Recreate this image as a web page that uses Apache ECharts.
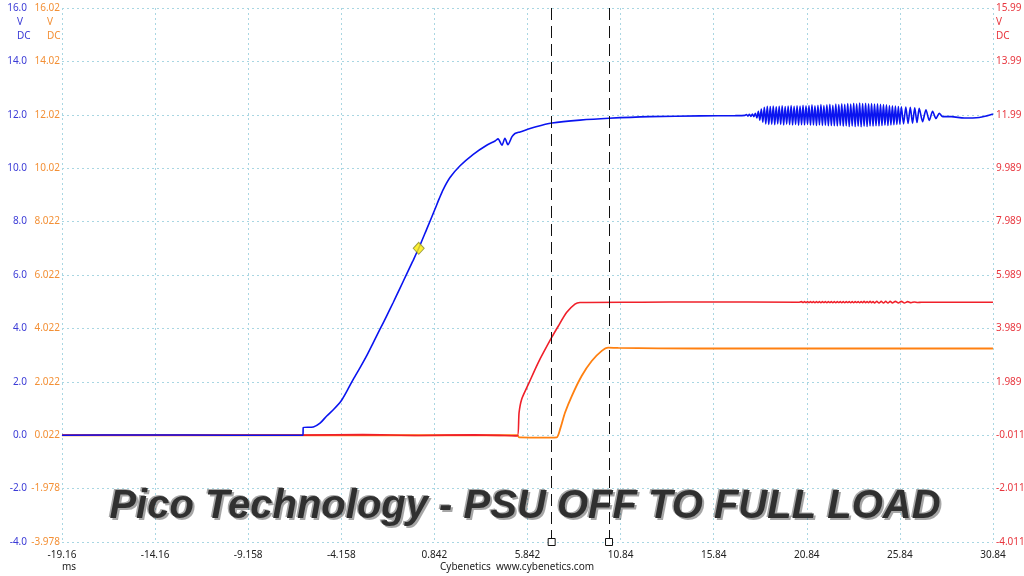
<!DOCTYPE html>
<html>
<head>
<meta charset="utf-8">
<script src="https://cdn.jsdelivr.net/npm/echarts@6/dist/echarts.min.js"></script>
<style>
html,body{margin:0;padding:0;background:#fff;overflow:hidden;}
#chart{width:1024px;height:576px;}
</style>
</head>
<body>
<div id="chart"></div>
<script>
// ---- tick labels ----
const xTickLabels = ['-19.16','-14.16','-9.158','-4.158','0.842','5.842','10.84','15.84','20.84','25.84','30.84'];
const blueTickLabels = ['-4.0','-2.0','0.0','2.0','4.0','6.0','8.0','10.0','12.0','14.0','16.0'];
const orangeTickLabels = ['-3.978','-1.978','0.022','2.022','4.022','6.022','8.022','10.02','12.02','14.02','16.02'];
const redTickLabels = ['-4.011','-2.011','-0.011','1.989','3.989','5.989','7.989','9.989','11.99','13.99','15.99'];

// ---- axis offsets (time at left edge, channel offsets vs blue scale) ----
const timeStart = -19.158;   // ms at left edge
const orangeOffset = 0.022;  // orange axis label = blue value + 0.022
const redOffset = -0.011;    // red axis label = blue value - 0.011

// ---- channel A (blue, V) [ms, V] ----
const blueTrace = [
[-19.16,0.00],[-15.0,0.01],[-10.0,0.00],[-6.22,0.00],[-6.20,0.29],[-5.66,0.31],[-5.30,0.45],[-4.94,0.72],[-4.55,0.98],[-4.17,1.28],
[-3.85,1.66],[-3.51,2.10],[-3.15,2.53],[-2.80,2.97],[-2.44,3.47],[-2.08,3.97],[-1.72,4.47],[-1.37,4.97],[-1.01,5.50],[-0.65,6.03],
[-0.32,6.52],[0.00,7.00],[0.43,7.72],[0.87,8.46],[1.10,8.86],[1.32,9.21],[1.68,9.65],[2.22,10.09],[2.93,10.52],[3.65,10.86],
[4.10,11.02],[4.26,11.10],[4.47,10.86],[4.63,11.12],[4.79,10.88],[5.01,11.18],[5.17,11.30],[5.44,11.36],[6.30,11.55],[7.16,11.69],
[8.66,11.80],[10.22,11.87],[12.42,11.93],[15.11,11.96],[17.00,11.97]
];
const blueRipple = [
[17.52,11.98],[17.60,12.01],[17.68,11.95],[17.76,12.02],[17.84,11.94],[17.92,12.03],[18.00,11.93],[18.08,12.06],[18.16,11.88],[18.24,12.13],
[18.32,11.80],[18.40,12.22],[18.48,11.72],[18.56,12.28],[18.64,11.66],[18.72,12.32],[18.80,11.64],[18.88,12.31],[18.96,11.65],[19.04,12.33],
[19.12,11.63],[19.20,12.30],[19.28,11.66],[19.36,12.32],[19.44,11.64],[19.52,12.34],[19.60,11.62],[19.68,12.31],[19.76,11.65],[19.84,12.33],
[19.92,11.63],[20.00,12.35],[20.08,11.62],[20.16,12.32],[20.24,11.64],[20.32,12.34],[20.40,11.61],[20.48,12.33],[20.56,11.63],[20.64,12.36],
[20.72,11.62],[20.80,12.34],[20.88,11.64],[20.96,12.35],[21.04,11.61],[21.12,12.37],[21.20,11.62],[21.28,12.34],[21.36,11.60],[21.44,12.36],
[21.52,11.62],[21.60,12.38],[21.68,11.60],[21.76,12.35],[21.84,11.61],[21.92,12.37],[22.00,11.59],[22.08,12.39],[22.16,11.60],[22.24,12.36],
[22.32,11.59],[22.40,12.40],[22.48,11.58],[22.56,12.38],[22.64,11.60],[22.72,12.41],[22.80,11.57],[22.88,12.39],[22.96,11.59],[23.04,12.42],
[23.12,11.56],[23.20,12.40],[23.28,11.58],[23.36,12.43],[23.44,11.56],[23.52,12.41],[23.60,11.57],[23.68,12.44],[23.76,11.55],[23.84,12.42],
[23.92,11.57],[24.00,12.43],[24.08,11.56],[24.16,12.41],[24.24,11.58],[24.32,12.42],[24.40,11.57],[24.48,12.40],[24.56,11.59],[24.64,12.41],
[24.72,11.58],[24.80,12.39],[24.88,11.60],[24.96,12.38],[25.04,11.61],[25.12,12.37],[25.20,11.60],[25.28,12.35],[25.36,11.62],[25.44,12.34],
[25.52,11.63],[25.60,12.33],[25.68,11.64],[25.76,12.31],[25.84,11.65],[25.92,12.30],[26.04,11.66],[26.16,12.29],[26.28,11.68],[26.40,12.28],
[26.52,11.69],[26.64,12.26],[26.76,11.71],[26.88,12.24],[27.06,11.74],[27.24,12.19],[27.42,11.79],[27.60,12.13],[27.78,11.86],[27.96,12.06],
[28.14,11.93]
];
const blueTail = [[28.60,11.93],[29.30,11.88],[30.10,11.90],[30.50,11.96],[30.84,12.03]];

// ---- channel B (red, V) [ms, V] ----
const redTrace = [
[-19.16,-0.01],[-6.20,-0.01],[-3.00,0.01],[0.00,-0.02],[3.00,0.00],[5.00,-0.03],[5.30,-0.04],[5.39,0.84],[5.53,1.34],[5.89,1.90],
[6.42,2.71],[7.14,3.65],[7.50,4.08],[7.95,4.59],[8.39,4.90],[8.66,4.96],[12.00,4.97],[15.00,4.98],[20.40,4.97]
];
const redRipple = [
[20.56,4.99],[20.64,4.96],[20.72,4.99],[20.80,4.96],[20.88,4.99],[20.96,4.96],[21.04,4.99],[21.12,4.96],[21.20,4.99],[21.28,4.95],
[21.36,4.99],[21.44,4.96],[21.52,4.99],[21.60,4.95],[21.68,4.99],[21.76,4.96],[21.84,4.99],[21.92,4.95],[22.00,4.99],[22.08,4.96],
[22.16,4.99],[22.24,4.95],[22.32,4.99],[22.40,4.95],[22.48,4.99],[22.56,4.96],[22.64,4.99],[22.72,4.95],[22.80,4.99],[22.88,4.95],
[22.96,4.99],[23.04,4.96],[23.12,4.99],[23.20,4.95],[23.28,4.99],[23.36,4.95],[23.44,4.99],[23.52,4.96],[23.60,4.99],[23.68,4.95],
[23.76,4.99],[23.84,4.95],[23.92,5.00],[24.00,4.95],[24.08,4.99],[24.16,4.95],[24.24,5.00],[24.32,4.95],[24.40,4.99],[24.48,4.94],
[24.60,5.00],[24.72,4.94],[24.84,5.00],[24.96,4.94],[25.08,5.00],[25.20,4.94],[25.32,5.00],[25.44,4.94],[25.60,5.00],[25.76,4.94],
[25.92,5.00],[26.08,4.94],[26.26,4.99],[26.44,4.95],[26.62,4.98],[26.80,4.96]
];
const redTail = [[27.00,4.97],[30.84,4.97]];

// ---- channel C (orange, V) [ms, V] ----
const orangeTrace = [
[-19.16,0.02],[5.30,0.02],[5.40,-0.06],[7.00,-0.07],[7.41,-0.06],[7.59,0.24],[7.86,0.87],[8.22,1.49],[8.75,2.24],[9.29,2.80],
[9.83,3.18],[10.18,3.30],[10.72,3.29],[15.00,3.27],[20.00,3.27],[25.00,3.27],[30.84,3.27]
];

// ---- cursors and trigger ----
const cursorTimes = [7.14, 10.22];
const triggerPoint = [0.0, 7.0];

// ---- build (shift time so the screen starts at 0) ----
const sx = t => +(t - timeStart).toFixed(4);
const blueData = blueTrace.concat(blueRipple, blueTail).map(p => [sx(p[0]), p[1]]);
const redData = redTrace.concat(redRipple, redTail).map(p => [sx(p[0]), +(p[1] - redOffset).toFixed(4)]);
const orangeData = orangeTrace.map(p => [sx(p[0]), +(p[1] - orangeOffset).toFixed(4)]);

const gridColor = '#a9d6e2';
const labelFont = '"Noto Sans", "Open Sans", sans-serif';
const titleText = 'Pico Technology - PSU OFF TO FULL LOAD';
const titleFont = 'italic bold 40px "Liberation Sans", Arial, sans-serif';

const chart = echarts.init(document.getElementById('chart'), null, {renderer: 'canvas'});
chart.setOption({
  animation: false,
  backgroundColor: '#ffffff',
  grid: {left: 62, right: 31, top: 8, bottom: 34, containLabel: false, outerBoundsMode: 'none'},
  xAxis: {
    type: 'value', min: 0, max: 50, interval: 5,
    axisLine: {show: false}, axisTick: {show: false},
    splitLine: {show: true, lineStyle: {color: gridColor, type: [2, 3], width: 1}},
    axisLabel: {color: '#222', fontSize: 10, fontFamily: labelFont, margin: 8,
      formatter: v => xTickLabels[Math.round(v / 5)] || ''}
  },
  yAxis: [
    {type: 'value', min: -4, max: 16, interval: 2, position: 'left',
      axisLine: {show: false}, axisTick: {show: false},
      splitLine: {show: true, lineStyle: {color: gridColor, type: [2, 3], width: 1}},
      axisLabel: {color: '#3b3bd6', fontSize: 10, fontFamily: labelFont, margin: 35,
        formatter: v => blueTickLabels[Math.round((v + 4) / 2)] || ''}},
    {type: 'value', min: -4, max: 16, interval: 2, position: 'left',
      axisLine: {show: false}, axisTick: {show: false}, splitLine: {show: false},
      axisLabel: {color: '#f39036', fontSize: 10, fontFamily: labelFont, margin: 2,
        formatter: v => orangeTickLabels[Math.round((v + 4) / 2)] || ''}},
    {type: 'value', min: -4, max: 16, interval: 2, position: 'right',
      axisLine: {show: false}, axisTick: {show: false}, splitLine: {show: false},
      axisLabel: {color: '#e8363e', fontSize: 10, fontFamily: labelFont, margin: 3,
        formatter: v => redTickLabels[Math.round((v + 4) / 2)] || ''}}
  ],
  series: [
    {type: 'line', name: 'C', data: orangeData, showSymbol: false, z: 2, smooth: 0.25,
      lineStyle: {color: '#ff8010', width: 1.8}},
    {type: 'line', name: 'B', data: redData, showSymbol: false, z: 3, smooth: 0.25,
      lineStyle: {color: '#f0202a', width: 1.6}},
    {type: 'line', name: 'A', data: blueData, showSymbol: false, z: 4, smooth: 0.25,
      lineStyle: {color: '#0a14f0', width: 1.6}},
    {type: 'scatter', name: 'cursors', z: 6, clip: false, silent: true,
      symbol: 'rect', symbolSize: 7,
      itemStyle: {color: '#ffffff', borderColor: '#111', borderWidth: 1, opacity: 1},
      data: cursorTimes.map(t => [sx(t), -4]),
      markLine: {silent: true, symbol: ['none', 'none'], label: {show: false},
        lineStyle: {color: '#111', type: [12, 6], width: 1},
        data: cursorTimes.map(t => ({xAxis: sx(t)}))}},
    {type: 'scatter', name: 'trigger', z: 7, silent: true,
      symbol: 'diamond', symbolSize: [11, 12],
      itemStyle: {color: '#ffee00', borderColor: '#8a8a30', borderWidth: 1},
      data: [[sx(triggerPoint[0]), triggerPoint[1]]]}
  ],
  graphic: [
    {type: 'text', left: 17, top: 17, style: {text: 'V', fill: '#3b3bd6', font: '10px ' + labelFont}},
    {type: 'text', left: 17, top: 31, style: {text: 'DC', fill: '#3b3bd6', font: '10px ' + labelFont}},
    {type: 'text', left: 47, top: 17, style: {text: 'V', fill: '#f39036', font: '10px ' + labelFont}},
    {type: 'text', left: 47, top: 31, style: {text: 'DC', fill: '#f39036', font: '10px ' + labelFont}},
    {type: 'text', left: 996, top: 17, style: {text: 'V', fill: '#e8363e', font: '10px ' + labelFont}},
    {type: 'text', left: 996, top: 31, style: {text: 'DC', fill: '#e8363e', font: '10px ' + labelFont}},
    {type: 'text', left: 62, top: 562, style: {text: 'ms', fill: '#222', font: '10px ' + labelFont}},
    {type: 'text', left: 440, top: 562, style: {text: 'Cybenetics  www.cybenetics.com', fill: '#222', font: '10px ' + labelFont}},
    // title: shadow layer, highlight layer, main layer
    {type: 'text', x: 527, y: 509, z: 8,
      style: {text: titleText, align: 'center', verticalAlign: 'middle', font: titleFont,
        fill: 'rgba(0,0,0,0.35)', shadowColor: 'rgba(0,0,0,0.35)', shadowBlur: 3}},
    {type: 'text', x: 523.5, y: 506, z: 9,
      style: {text: titleText, align: 'center', verticalAlign: 'middle', font: titleFont,
        fill: '#a8a8a8'}},
    {type: 'text', x: 525, y: 507, z: 10,
      style: {text: titleText, align: 'center', verticalAlign: 'middle', font: titleFont,
        fill: '#303030'}}
  ]
});
</script>
</body>
</html>
